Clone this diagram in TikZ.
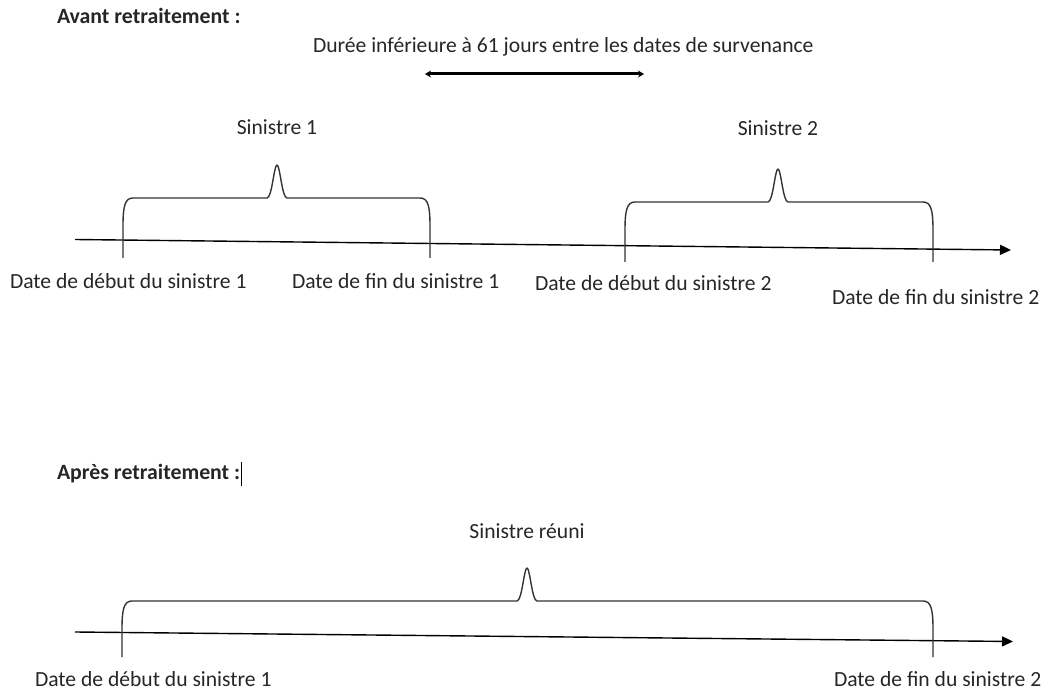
\documentclass[tikz,border=0pt]{standalone}
\usepackage{fontspec}
\setmainfont{Carlito}
\usetikzlibrary{arrows.meta}
\begin{document}
\begin{tikzpicture}[x=1pt,y=-1pt,
  lbl/.style={inner sep=0pt,outer sep=0pt,font=\fontsize{21.6}{25}\selectfont,text=black!85},
  head/.style={lbl,font=\fontsize{21.8}{25}\selectfont\bfseries},
  axis/.style={line width=1.4pt,-{Triangle[length=11pt,width=10pt]}},
  bracestyle/.style={line width=1.4pt,draw=black!80,line join=round},
  dur/.style={line width=3pt,{Stealth[length=6pt,width=7pt]}-{Stealth[length=6pt,width=7pt]}}
]
\useasboundingbox (0,0) rectangle (1045,692);
\newcommand{\mybrace}[5]{% x1, x2, xp, yt, yb
  \draw[bracestyle] (#1,#5) -- (#1,#4+28) .. controls (#1,#4+8) and (#1+2,#4) .. (#1+10,#4)
    -- (#3-10,#4) .. controls (#3-5,#4) and (#3-3,#4-33) .. (#3,#4-33)
    .. controls (#3+3,#4-33) and (#3+5,#4) .. (#3+10,#4)
    -- (#2-10,#4) .. controls (#2-2,#4) and (#2,#4+8) .. (#2,#4+28) -- (#2,#5);}

% --- Avant ---
\node[head,anchor=west] (avant) at (57,16) {Avant retraitement :};
\node[lbl,anchor=west] (duree) at (313,47) {Durée inférieure à 61 jours entre les dates de survenance};
\coordinate (dl) at (425,74);
\coordinate (dr) at (644,74);
\draw[dur] (dl) -- (dr);

\node[lbl] (s1) at (277,127) {Sinistre 1};
\node[lbl] (s2) at (778,128) {Sinistre 2};

\coordinate (a1) at (75,239.5);
\coordinate (a2) at (1011,250);
\draw[axis] (a1) -- (a2);

\mybrace{123}{430}{277}{198}{258}
\mybrace{625}{933}{778}{202}{262}

\node[lbl,anchor=west] (d1) at (10,281) {Date de début du sinistre 1};
\node[lbl,anchor=west] (f1) at (292,281) {Date de fin du sinistre 1};
\node[lbl,anchor=west] (d2) at (535,283) {Date de début du sinistre 2};
\node[lbl,anchor=west] (f2) at (832,297) {Date de fin du sinistre 2};

% --- Apres ---
\node[head,anchor=west] (apres) at (57,474) {Après retraitement :};
\draw[line width=0.8pt] (apres.east) ++(1,-12) -- ++(0,24);
\node[lbl] (sr) at (527,531) {Sinistre réuni};

\coordinate (b1) at (75,632);
\coordinate (b2) at (1013,641.5);
\draw[axis] (b1) -- (b2);

\mybrace{122}{933}{527}{601}{657}

\node[lbl,anchor=west] (d1b) at (35,679) {Date de début du sinistre 1};
\node[lbl,anchor=west] (f2b) at (834,679) {Date de fin du sinistre 2};
\end{tikzpicture}
\end{document}
